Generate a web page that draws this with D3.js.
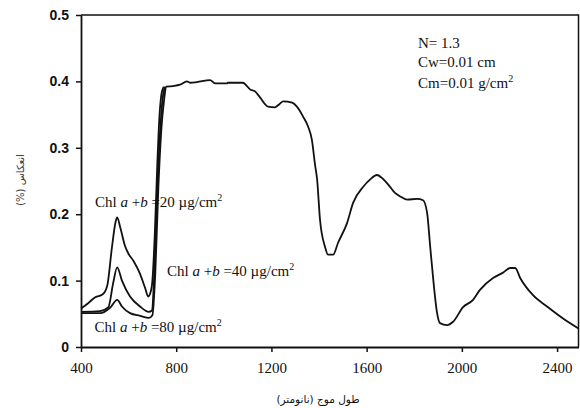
<!DOCTYPE html>
<html><head><meta charset="utf-8">
<script src="https://cdn.jsdelivr.net/npm/d3@7"></script>
<style>html,body{margin:0;padding:0;background:#fff;}</style>
</head><body>
<svg id="c" width="580" height="408"></svg>
<script>
// Low-wavelength parts (differ by chlorophyll content)
const chl20 = [[400,0.058],[430,0.066],[460,0.075],[490,0.079],[510,0.092],[530,0.15],[545,0.188],[552,0.195],[565,0.18],[585,0.152],[600,0.14],[620,0.13],[648,0.11],[670,0.088],[682,0.076],[692,0.082],[700,0.10],[710,0.17],[720,0.27],[730,0.35],[740,0.385],[748,0.392]];
const chl40 = [[400,0.053],[480,0.054],[515,0.06],[535,0.096],[552,0.12],[572,0.10],[606,0.076],[648,0.061],[685,0.053],[698,0.055],[710,0.13],[722,0.25],[735,0.34],[745,0.38],[752,0.392]];
const chl80 = [[400,0.051],[480,0.051],[522,0.059],[552,0.071],[572,0.061],[606,0.051],[648,0.047],[685,0.044],[700,0.048],[712,0.11],[725,0.24],[738,0.33],[750,0.375],[756,0.392]];
// Shared part of the spectrum
const common = [[756,0.392],[787,0.393],[816,0.395],[845,0.400],[858,0.398],[887,0.399],[942,0.402],[963,0.397],[1013,0.397],[1017,0.398],[1080,0.398],[1097,0.393],[1110,0.388],[1131,0.385],[1152,0.376],[1186,0.362],[1215,0.361],[1228,0.364],[1249,0.370],[1287,0.368],[1307,0.362],[1333,0.347],[1354,0.332],[1370,0.312],[1383,0.275],[1392,0.252],[1404,0.192],[1425,0.151],[1438,0.139],[1459,0.139],[1480,0.157],[1518,0.187],[1543,0.217],[1585,0.241],[1614,0.252],[1643,0.259],[1669,0.253],[1690,0.245],[1719,0.232],[1745,0.226],[1770,0.222],[1812,0.223],[1837,0.221],[1854,0.202],[1867,0.151],[1880,0.101],[1896,0.051],[1908,0.036],[1938,0.033],[1963,0.038],[2005,0.060],[2047,0.071],[2076,0.086],[2131,0.104],[2173,0.112],[2203,0.119],[2224,0.119],[2245,0.104],[2299,0.078],[2358,0.061],[2425,0.043],[2490,0.028]];
const xTicks = [400,800,1200,1600,2000,2400];
const xTickLabels = ["400","800","1200","1600","2000","2400"];
const yTicks = [0,0.1,0.2,0.3,0.4,0.5];
const yTickLabels = ["0","0.1","0.2","0.3","0.4","0.5"];
const params = ["N= 1.3","Cw=0.01 cm","Cm=0.01 g/cm"];
const chlLabels = ["20","40","80"];

const svg = d3.select("#c");
const x = d3.scaleLinear().domain([400,2490]).range([81,578.5]);
const y = d3.scaleLinear().domain([0,0.5]).range([347,15]);
const ink = "#111";

// frame top/right
svg.append("path").attr("d",`M${x(400)},${y(0.5)}H${x(2490)}V${y(0)}`)
  .attr("fill","none").attr("stroke",ink).attr("stroke-width",1.5);

const gx = svg.append("g").attr("transform",`translate(0,${y(0)})`)
  .call(d3.axisBottom(x).tickValues(xTicks).tickFormat((d,i)=>xTickLabels[i]).tickSize(5).tickPadding(10).tickSizeOuter(0));
gx.select(".domain").attr("stroke",ink).attr("stroke-width",1.8);
gx.selectAll(".tick line").attr("stroke",ink).attr("stroke-width",1.5);
gx.selectAll(".tick text").attr("font-family","'Liberation Serif','Times New Roman',serif")
  .attr("font-size",15).attr("fill",ink);

const gy = svg.append("g").attr("transform",`translate(${x(400)},0)`)
  .call(d3.axisLeft(y).tickValues(yTicks).tickFormat((d,i)=>yTickLabels[i]).tickSize(5).tickPadding(7).tickSizeOuter(0));
gy.select(".domain").attr("stroke",ink).attr("stroke-width",1.8);
gy.selectAll(".tick line").attr("stroke",ink).attr("stroke-width",1.5);
gy.selectAll(".tick text").attr("font-family","'Liberation Sans',Arial,sans-serif")
  .attr("font-weight","bold").attr("font-size",14).attr("fill",ink);

const line = d3.line().x(d=>x(d[0])).y(d=>y(d[1])).curve(d3.curveMonotoneX);
[chl20,chl40,chl80,common].forEach(s=>{
  svg.append("path").datum(s).attr("d",line).attr("fill","none")
    .attr("stroke",ink).attr("stroke-width",1.8).attr("stroke-linejoin","round");
});

const serif = "'Liberation Serif','Times New Roman',serif";
// parameter annotations
const ann = svg.append("g").attr("font-family",serif).attr("font-size",15).attr("fill",ink);
[48,67,88].forEach((by,i)=>{
  const t = ann.append("text").attr("x",418).attr("y",by).text(params[i]);
  if(i===2) t.append("tspan").attr("font-size",10).attr("dy",-6).text("2");
});

// Chl labels
const chlPos = [[95,207],[167,275.5],[94.5,331.5]];
chlPos.forEach((p,i)=>{
  const t = svg.append("text").attr("x",p[0]).attr("y",p[1])
    .attr("font-family",serif).attr("font-size",15).attr("fill",ink);
  t.append("tspan").text("Chl ");
  t.append("tspan").attr("font-style","italic").text("a");
  t.append("tspan").text(" +");
  t.append("tspan").attr("font-style","italic").text("b");
  t.append("tspan").text(" =" + chlLabels[i] + " \u00B5g/cm");
  t.append("tspan").attr("font-size",10).attr("dy",-6).text("2");
});

// axis titles
svg.append("text").attr("x",318).attr("y",403).attr("text-anchor","middle")
  .attr("font-family","'DejaVu Sans','Noto Sans',sans-serif").attr("font-size",10.5).attr("fill",ink)
  .attr("direction","rtl").text("طول موج (نانومتر)");
svg.append("text").attr("transform","translate(24,180) rotate(-90)").attr("text-anchor","middle")
  .attr("font-family","'DejaVu Sans','Noto Sans',sans-serif").attr("font-size",10).attr("fill","#333")
  .attr("direction","rtl").text("انعکاس (%)");
</script>
</body></html>
